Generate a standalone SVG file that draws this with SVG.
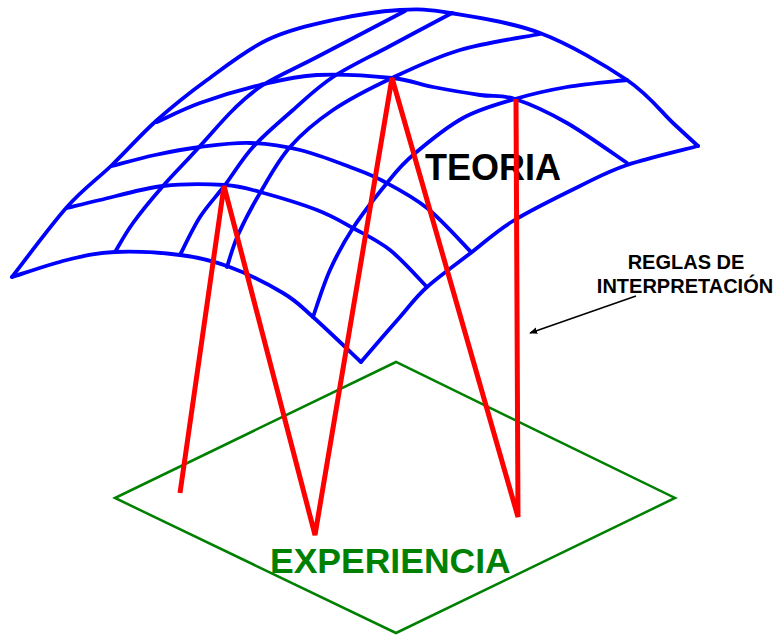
<svg xmlns="http://www.w3.org/2000/svg" width="777" height="635" viewBox="0 0 777 635">
<style>
.grid{fill:none;stroke:#0000ff;stroke-width:3.8;stroke-linejoin:round;stroke-linecap:round}
.plane{fill:none;stroke:#008000;stroke-width:2.5;stroke-linejoin:miter}
.rule{fill:none;stroke:#ff0000;stroke-width:5;stroke-linejoin:miter;stroke-linecap:butt}
.lbl{font-family:"Liberation Sans",Arial,sans-serif;font-weight:bold}
</style>
<defs>
<marker id="ah" viewBox="0 0 10 10" refX="9" refY="5" markerWidth="8" markerHeight="8" markerUnits="userSpaceOnUse" orient="auto">
<path d="M0,1 L10,5 L0,9 Z" fill="#000"/>
</marker>
</defs>
<rect width="777" height="635" fill="#fff"/>
<g id="experiencia">
<polygon class="plane" points="115,498 396,362 675,498 396,633"/>
<text class="lbl" x="270" y="573" font-size="35.5" fill="#008000">EXPERIENCIA</text>
</g>
<g id="teoria">
<path class="grid" d="M12,277 C21.2,265.3 50.3,225.7 67,207 C83.7,188.3 97.2,179.3 112,165 C126.8,150.7 140.2,135.2 156,121 C171.8,106.8 188.5,93.5 207,80 C225.5,66.5 246,50 267,40 C288,30 310.8,25 333,20 C355.2,15 380.5,11.2 400,10 C419.5,8.8 426.7,9.2 450,13 C473.3,16.8 510.5,21.8 540,33 C569.5,44.2 604.8,65 627,80 C649.2,95 661.2,112 673,123 C684.8,134 693.8,142.2 698,146"/>
<path class="grid" d="M12,277 C21.2,274.2 49.8,264.2 67,260 C84.2,255.8 96.2,252.8 115,252 C133.8,251.2 161.3,252.7 180,255 C198.7,257.3 209.8,259.7 227,266 C244.2,272.3 268.7,284.5 283,293 C297.3,301.5 300,305.5 313,317 C326,328.5 353,354.5 361,362"/>
<path class="grid" d="M67,208 C72.5,206.7 84,203.7 100,200 C116,196.3 142.2,188.5 163,186 C183.8,183.5 208.8,184 225,185 C241.2,186 244.7,187.8 260,192 C275.3,196.2 301.5,204 317,210 C332.5,216 340.8,221.3 353,228 C365.2,234.7 377.7,240.2 390,250 C402.3,259.8 420.8,280.8 427,287"/>
<path class="grid" d="M112,166 C119.2,164.2 140.3,158.2 155,155 C169.7,151.8 184.2,149 200,147 C215.8,145 233.3,142.5 250,143 C266.7,143.5 283.3,146 300,150 C316.7,154 336.2,161.8 350,167 C363.8,172.2 370.2,174.2 383,181 C395.8,187.8 412.3,196.2 427,208 C441.7,219.8 463.7,244.7 471,252"/>
<path class="grid" d="M157,122 C164.2,118.8 182.8,109.2 200,103 C217.2,96.8 240.5,89.7 260,85 C279.5,80.3 295,76.2 317,75 C339,73.8 372.7,76 392,78 C411.3,80 418.3,84.2 433,87 C447.7,89.8 466.3,93 480,95 C493.7,97 500.5,94.3 515,99 C529.5,103.7 548.3,112.3 567,123 C585.7,133.7 617,156.3 627,163"/>
<path class="grid" d="M361,362 C367.5,354.5 389,329.5 400,317 C411,304.5 415,297.8 427,287 C439,276.2 457.7,263 472,252 C486.3,241 495,232 513,221 C531,210 561,195.3 580,186 C599,176.7 607.3,171.7 627,165 C646.7,158.3 686.2,149.2 698,146"/>
<path class="grid" d="M115,252 C118,247.2 125,234 133,223 C141,212 151.8,198.8 163,186 C174.2,173.2 188.3,159.3 200,146 C211.7,133.3 222.5,120.2 233,110 C243.5,99.8 249,93.8 263,85 C277,76.2 293.3,69.3 317,57 C340.7,44.7 390.3,18.7 405,11"/>
<path class="grid" d="M180,255 C183.3,248.7 192.5,228.7 200,217 C207.5,205.3 216.2,196.7 225,185 C233.8,173.3 241.7,159.5 253,147 C264.3,134.5 279.7,121.7 293,110 C306.3,98.3 316.8,87.7 333,77 C349.2,66.3 370.2,56.7 390,46 C409.8,35.3 441.7,18.5 452,13"/>
<path class="grid" d="M227,267 C228.8,261.7 232.5,247.3 238,235 C243.5,222.7 251.3,207.7 260,193 C268.7,178.3 277.8,160.8 290,147 C302.2,133.2 316,121.5 333,110 C350,98.5 370.8,88 392,78 C413.2,68 435.3,57.3 460,50 C484.7,42.7 526.7,36.7 540,34"/>
<path class="grid" d="M313,317 C315.8,309.2 323.3,284.8 330,270 C336.7,255.2 343.5,242.5 353,228 C362.5,213.5 377,195.2 387,183 C397,170.8 400.3,165.8 413,155 C425.7,144.2 446,127.3 463,118 C480,108.7 497.7,104.2 515,99 C532.3,93.8 548.3,90.2 567,87 C585.7,83.8 617,81.2 627,80"/>
<text class="lbl" x="425" y="180" font-size="36" fill="#000">TEORIA</text>
</g>
<g id="reglas">
<text class="lbl" x="686" y="269" font-size="20" text-anchor="middle" fill="#000">REGLAS DE</text>
<text class="lbl" x="685" y="293" font-size="20" text-anchor="middle" fill="#000">INTERPRETACIÓN</text>
</g>
<g id="connectors">
<polyline class="rule" points="180,493 224,186 315,535 392,78 518,517 516,99"/>
<line x1="636" y1="296" x2="530" y2="333" stroke="#000" stroke-width="1.5" marker-end="url(#ah)"/>
</g>
</svg>
